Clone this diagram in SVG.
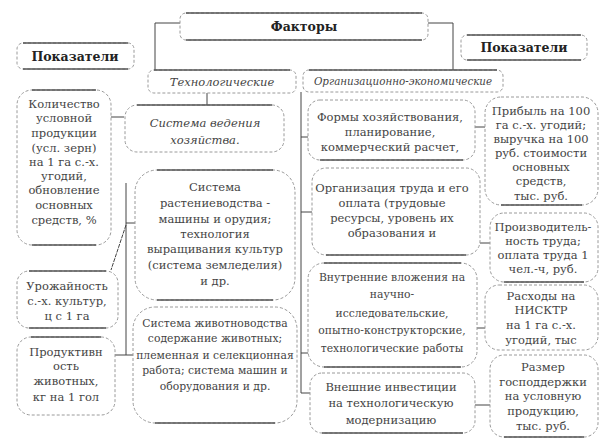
<svg xmlns="http://www.w3.org/2000/svg" width="601" height="448" viewBox="0 0 601 448">
<style>
.bx{fill:#fff;stroke:#9a9a9a;stroke-width:1;stroke-dasharray:3 2}
.edge{stroke:#555;stroke-width:1.3;fill:none}
text{font-family:'DejaVu Serif','Liberation Serif',serif;font-size:11.5px;fill:#444;text-anchor:middle}
.b{font-weight:bold;font-size:12.5px;fill:#222}
.i{font-style:italic}
.s{font-size:10.8px}
.cn{stroke:#444;stroke-width:1;fill:none}
</style>
<rect width="601" height="448" fill="#fff"/>
<g id="connectors">
<polyline class="cn" points="180,23 155,23 155,70"/>
<polyline class="cn" points="428,23 453,23 453,70"/>
<line class="cn" x1="207" y1="93" x2="207" y2="105"/>
<line class="cn" x1="111" y1="117" x2="124" y2="117"/>
<line class="cn" x1="126" y1="183" x2="126" y2="355"/>
<line class="cn" x1="126" y1="223" x2="135" y2="223"/>
<line class="cn" x1="126" y1="225" x2="111" y2="270" stroke-dasharray="4 1"/>
<line class="cn" x1="115" y1="355" x2="133" y2="355"/>
<line class="cn" x1="301" y1="92" x2="301" y2="393"/>
<line class="cn" x1="301" y1="137" x2="308" y2="137"/>
<line class="cn" x1="301" y1="212" x2="312" y2="212"/>
<line class="cn" x1="301" y1="353" x2="310" y2="353"/>
<line class="cn" x1="301" y1="393" x2="310" y2="393"/>
<line class="cn" x1="475" y1="127" x2="485" y2="127"/>
<line class="cn" x1="480" y1="243" x2="490" y2="243"/>
<line class="cn" x1="477" y1="328" x2="485" y2="328"/>
<line class="cn" x1="475" y1="405" x2="490" y2="405"/>
</g>
<g id="factors">
<rect class="bx" x="180" y="13" width="248" height="27" rx="6"/>
<line class="edge" x1="186" y1="13" x2="422" y2="13"/><line class="edge" x1="186" y1="40" x2="422" y2="40"/>
<text class="b" x="304" y="31">Факторы</text>
</g>
<g id="pokazateli-left">
<rect class="bx" x="17" y="43" width="117" height="26" rx="6"/>
<line class="edge" x1="23" y1="43" x2="128" y2="43"/><line class="edge" x1="23" y1="69" x2="128" y2="69" stroke-width="2"/>
<text class="b" x="75" y="61">Показатели</text>
</g>
<g id="pokazateli-right">
<rect class="bx" x="461" y="35" width="126" height="25" rx="6"/>
<line class="edge" x1="467" y1="35" x2="581" y2="35"/><line class="edge" x1="467" y1="60" x2="581" y2="60"/>
<text class="b" x="524" y="52">Показатели</text>
</g>
<g id="tech">
<rect class="bx" x="148" y="70" width="148" height="23" rx="6"/>
<line class="edge" x1="154" y1="70" x2="290" y2="70"/>
<text class="i" x="222" y="86">Технологические</text>
</g>
<g id="org">
<rect class="bx" x="303" y="70" width="200" height="22" rx="6"/>
<line class="edge" x1="309" y1="70" x2="497" y2="70"/>
<text class="i" x="403" y="85" style="font-size:10.3px">Организационно-экономические</text>
</g>
<g id="kolichestvo">
<rect class="bx" x="17" y="90" width="94" height="155" rx="15"/>
<line class="edge" x1="32" y1="90" x2="96" y2="90"/><line class="edge" x1="32" y1="245" x2="96" y2="245"/>
<text x="64" y="108">Количество</text>
<text x="64" y="122">условной</text>
<text x="64" y="137">продукции</text>
<text x="64" y="152">(усл. зерн)</text>
<text x="64" y="166">на 1 га с.-х.</text>
<text x="64" y="180">угодий,</text>
<text x="64" y="194">обновление</text>
<text x="64" y="209">основных</text>
<text x="64" y="224">средств, %</text>
</g>
<g id="urozhainost">
<rect class="bx" x="17" y="271" width="101" height="57" rx="12"/>
<line class="edge" x1="29" y1="271" x2="106" y2="271"/><line class="edge" x1="29" y1="328" x2="106" y2="328"/>
<text x="67" y="290">Урожайность</text>
<text x="67" y="305">с.-х. культур,</text>
<text x="67" y="320">ц с 1 га</text>
</g>
<g id="produktivnost">
<rect class="bx" x="17" y="337" width="98" height="78" rx="14"/>
<line class="edge" x1="31" y1="337" x2="101" y2="337"/>
<text x="66" y="356">Продуктивн</text>
<text x="66" y="370">ость</text>
<text x="66" y="385">животных,</text>
<text x="66" y="401">кг на 1 гол</text>
</g>
<g id="sistema-vedeniya">
<rect class="bx" x="125" y="105" width="159" height="47" rx="12"/>
<line class="edge" x1="137" y1="105" x2="272" y2="105"/>
<text class="i" x="205" y="127">Система ведения</text>
<text class="i" x="205" y="144">хозяйства.</text>
</g>
<g id="rastenievodstvo">
<rect class="bx" x="135" y="170" width="160" height="130" rx="22"/>
<line class="edge" x1="157" y1="170" x2="273" y2="170"/><line class="edge" x1="157" y1="300" x2="273" y2="300"/>
<text x="215" y="191">Система</text>
<text x="215" y="207">растениеводства -</text>
<text x="215" y="223">машины и орудия;</text>
<text x="215" y="238">технология</text>
<text x="215" y="253">выращивания культур</text>
<text x="215" y="269">(система земледелия)</text>
<text x="215" y="285">и др.</text>
</g>
<g id="zhivotnovodstvo">
<rect class="bx" x="133" y="307" width="164" height="116" rx="22"/>
<line class="edge" x1="155" y1="423" x2="275" y2="423"/>
<text class="s" x="215" y="327">Система животноводства</text>
<text class="s" x="215" y="342">содержание животных;</text>
<text class="s" x="215" y="359">племенная и селекционная</text>
<text class="s" x="215" y="374">работа; система машин и</text>
<text class="s" x="215" y="390">оборудования и др.</text>
</g>
<g id="formy">
<rect class="bx" x="308" y="100" width="167" height="60" rx="12"/>
<line class="edge" x1="320" y1="160" x2="463" y2="160"/>
<text x="390" y="121">Формы хозяйствования,</text>
<text x="390" y="136">планирование,</text>
<text x="390" y="151">коммерческий расчет,</text>
</g>
<g id="organizaciya">
<rect class="bx" x="312" y="168" width="168" height="87" rx="14"/>
<line class="edge" x1="326" y1="255" x2="466" y2="255"/>
<text x="392" y="192">Организация труда и его</text>
<text x="392" y="207">оплата (трудовые</text>
<text x="392" y="222">ресурсы, уровень их</text>
<text x="392" y="237">образования и</text>
</g>
<g id="vnutrennie">
<rect class="bx" x="308" y="263" width="169" height="104" rx="16"/>
<line class="edge" x1="324" y1="263" x2="461" y2="263"/><line class="edge" x1="324" y1="367" x2="461" y2="367"/>
<text class="s" x="392" y="281">Внутренние вложения на</text>
<text class="s" x="392" y="298">научно-</text>
<text class="s" x="392" y="317">исследовательские,</text>
<text class="s" x="392" y="334">опытно-конструкторские,</text>
<text class="s" x="392" y="352">технологические работы</text>
</g>
<g id="vneshnie">
<rect class="bx" x="310" y="373" width="165" height="60" rx="12"/>
<line class="edge" x1="322" y1="433" x2="463" y2="433"/>
<text x="391" y="391">Внешние инвестиции</text>
<text x="391" y="407">на технологическую</text>
<text x="391" y="424">модернизацию</text>
</g>
<g id="pribyl">
<rect class="bx" x="485" y="97" width="113" height="108" rx="16"/>
<line class="edge" x1="501" y1="205" x2="582" y2="205"/>
<text x="541" y="115">Прибыль на 100</text>
<text x="541" y="129">га с.-х. угодий;</text>
<text x="541" y="143">выручка на 100</text>
<text x="541" y="157">руб. стоимости</text>
<text x="541" y="171">основных</text>
<text x="541" y="185">средств,</text>
<text x="541" y="200">тыс. руб.</text>
</g>
<g id="proizvoditelnost">
<rect class="bx" x="490" y="213" width="108" height="69" rx="14"/>
<line class="edge" x1="504" y1="282" x2="584" y2="282"/>
<text x="543" y="231">Производитель-</text>
<text x="543" y="245">ность труда;</text>
<text x="543" y="259">оплата труда 1</text>
<text x="543" y="273">чел.-ч, руб.</text>
</g>
<g id="rashody">
<rect class="bx" x="485" y="285" width="113" height="65" rx="14"/>
<text x="541" y="300">Расходы на</text>
<text x="541" y="314">НИСКТР</text>
<text x="541" y="329">на 1 га с.-х.</text>
<text x="541" y="344">угодий, тыс</text>
</g>
<g id="razmer">
<rect class="bx" x="490" y="355" width="108" height="82" rx="14"/>
<line class="edge" x1="504" y1="437" x2="584" y2="437"/>
<text x="543" y="371">Размер</text>
<text x="543" y="386">господдержки</text>
<text x="543" y="400">на условную</text>
<text x="543" y="415">продукцию,</text>
<text x="543" y="430">тыс. руб.</text>
</g>
</svg>
